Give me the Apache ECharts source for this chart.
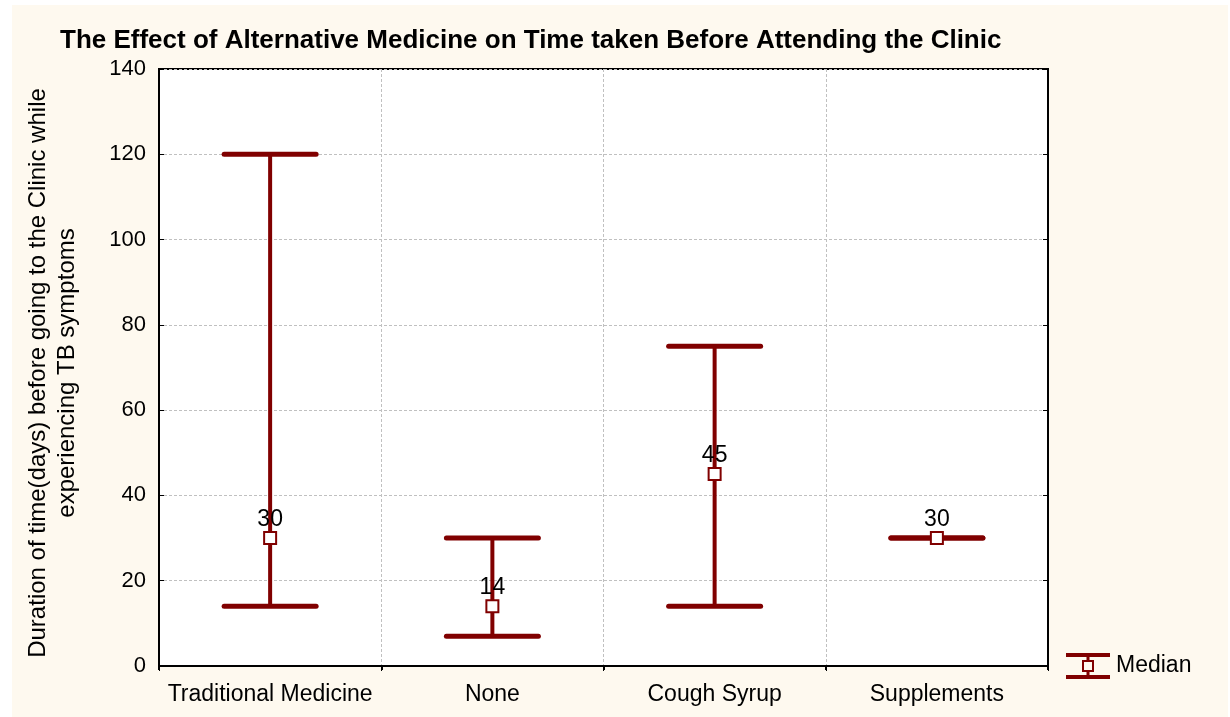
<!DOCTYPE html>
<html>
<head>
<meta charset="utf-8">
<script src="https://cdn.jsdelivr.net/npm/echarts@6/dist/echarts.min.js"></script>
<style>
html,body{margin:0;padding:0;background:#ffffff;}
#main{position:absolute;left:0;top:0;width:1230px;height:717px;}
</style>
</head>
<body>
<div id="main"></div>
<script>
const categories = ['Traditional Medicine', 'None', 'Cough Syrup', 'Supplements'];
const medianValues = [30, 14, 45, 30];
const lowValues = [14, 7, 14, 30];
const highValues = [120, 30, 75, 30];
const yTicks = [0, 20, 40, 60, 80, 100, 120, 140];

const DARK_RED = '#800000';
const FONT = 'Liberation Sans, Arial, sans-serif';

const errData = categories.map((c, i) => [i, lowValues[i], highValues[i]]);

const chart = echarts.init(document.getElementById('main'), null, {renderer: 'canvas'});

const option = {
  backgroundColor: 'transparent',
  animation: false,
  graphic: [{
    type: 'rect', z: -10, silent: true,
    shape: {x: 12, y: 5, width: 1216, height: 712},
    style: {fill: '#fef9ef'}
  }],
  title: {
    text: 'The Effect of Alternative Medicine on Time taken Before Attending the Clinic',
    left: 55, top: 23,
    textStyle: {fontFamily: FONT, fontWeight: 'bold', fontSize: 26, color: '#000'}
  },
  legend: {
    data: [{name: 'Median',
      icon: 'path://M0,0h44v4h-44Z M0,22h44v4h-44Z M20.5,4h3v3h-3Z M20.5,19h3v3h-3Z M16,7h12v12h-12Z M18,9v8h8v-8Z',
      itemStyle: {color: DARK_RED, borderWidth: 0}
    }],
    left: 1061, top: 648,
    itemWidth: 44, itemHeight: 26,
    textStyle: {fontFamily: FONT, fontSize: 23, color: '#000', padding: [4, 0, 0, 1]}
  },
  grid: {
    left: 159, top: 69, right: 182, bottom: 51,
    show: true, backgroundColor: '#ffffff', borderColor: '#000', borderWidth: 2
  },
  xAxis: [{
    type: 'category', data: categories, boundaryGap: true,
    axisLine: {show: true, lineStyle: {color: '#000', width: 2}},
    axisTick: {show: true, length: 4, lineStyle: {color: '#000', width: 2}},
    axisLabel: {fontFamily: FONT, fontSize: 23, color: '#000', margin: 17, interval: 0},
    splitLine: {show: true, lineStyle: {color: '#c0c0c0', type: [3, 2], width: 1}}
  }, {
    type: 'category', data: categories, boundaryGap: true, position: 'top',
    axisLine: {show: true, lineStyle: {color: '#000', width: 2}},
    axisTick: {show: true, inside: true, length: 5, lineStyle: {color: '#000', width: 1}},
    axisLabel: {show: false},
    splitLine: {show: false}
  }],
  yAxis: [{
    type: 'value', min: 0, max: 140, interval: 20,
    name: 'Duration of time(days) before going to the Clinic while\nexperiencing TB symptoms',
    nameLocation: 'middle', nameGap: 77, nameRotate: 90,
    nameTextStyle: {fontFamily: FONT, fontSize: 24, color: '#000', lineHeight: 29, padding: [0, 11, 0, 0]},
    axisLine: {show: true, lineStyle: {color: '#000', width: 2}},
    axisTick: {show: true, inside: true, length: 5, lineStyle: {color: '#000', width: 1}},
    axisLabel: {fontFamily: FONT, fontSize: 22, color: '#000', margin: 13,
      formatter: v => yTicks.includes(v) ? String(v) : ''},
    splitLine: {show: true, lineStyle: {color: '#c0c0c0', type: [3, 2], width: 1}}
  }, {
    type: 'value', min: 0, max: 140, interval: 20, position: 'right',
    axisLine: {show: true, lineStyle: {color: '#000', width: 2}},
    axisTick: {show: true, inside: true, length: 5, lineStyle: {color: '#000', width: 1}},
    axisLabel: {show: false},
    splitLine: {show: false}
  }],
  series: [{
    name: 'Median',
    type: 'custom',
    color: DARK_RED,
    xAxisIndex: 0, yAxisIndex: 0,
    data: errData,
    renderItem: function (params, api) {
      const x = api.value(0);
      const lo = api.coord([x, api.value(1)]);
      const hi = api.coord([x, api.value(2)]);
      const half = 46;
      const cap = {stroke: DARK_RED, lineWidth: 5, lineCap: 'round'};
      return {
        type: 'group',
        children: [
          {type: 'line', shape: {x1: lo[0], y1: lo[1], x2: hi[0], y2: hi[1]},
           style: {stroke: DARK_RED, lineWidth: 4}},
          {type: 'line', shape: {x1: lo[0] - half, y1: lo[1], x2: lo[0] + half, y2: lo[1]}, style: cap},
          {type: 'line', shape: {x1: hi[0] - half, y1: hi[1], x2: hi[0] + half, y2: hi[1]}, style: cap}
        ]
      };
    },
    z: 2
  }, {
    name: 'MedianPoints',
    type: 'scatter',
    xAxisIndex: 0, yAxisIndex: 0,
    data: medianValues,
    symbol: 'rect',
    symbolSize: 12,
    itemStyle: {color: '#ffffff', borderColor: DARK_RED, borderWidth: 2, opacity: 1},
    label: {show: true, position: 'top', distance: 0, fontFamily: FONT, fontSize: 23, color: '#000'},
    z: 3
  }]
};
chart.setOption(option);
</script>
</body>
</html>
